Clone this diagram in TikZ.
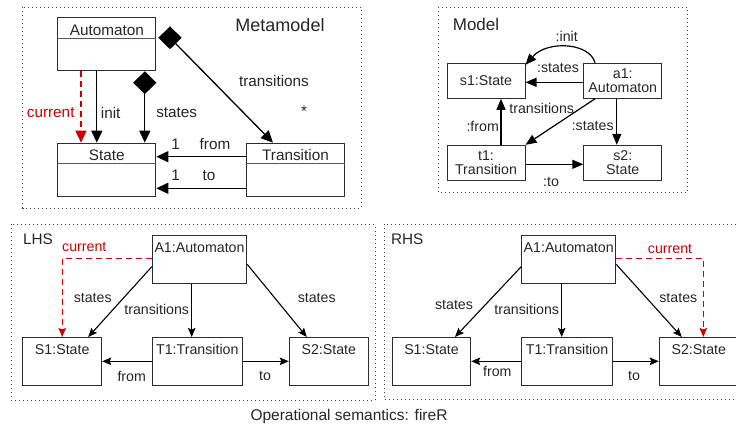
\documentclass[tikz,border=0pt]{standalone}
\usepackage{fontspec}
\setmainfont{Liberation Sans}
\usepackage{xcolor}
\usepackage{tikz}
\usetikzlibrary{arrows.meta,shapes.geometric}
\definecolor{curred}{RGB}{204,0,0}
\definecolor{boxline}{RGB}{45,45,45}
\definecolor{sepline}{RGB}{105,80,80}
\newcommand{\compartment}[1]{%
    \draw[sepline, line width=1pt] ([yshift=-21pt]#1.north west) -- ([yshift=-21pt]#1.north east);%
}

\begin{document}
\begin{tikzpicture}[x=1pt, y=-1pt, every node/.style={inner sep=0pt, text=black!85},
            frame/.style={draw=black!75, line width=1pt, dash pattern=on 1pt off 3pt},
            metafont/.style={font=\fontsize{15.3}{17}\selectfont},
            objfont/.style={font=\fontsize{14.2}{14.5}\selectfont},
            classbox/.style={draw=boxline, line width=1pt, metafont, minimum width=98pt,
                inner ysep=3pt, text height=14.7pt, text depth=32.3pt},
            modelbox/.style={draw=boxline, line width=1pt, objfont, align=center,
                minimum width=78pt, minimum height=35pt},
            objbox/.style={draw=boxline, line width=1pt, objfont, minimum width=#1,
                inner ysep=3pt, text height=13.6pt, text depth=28pt},
            blackdiamond/.style={diamond, fill=black, minimum width=23.5pt, minimum height=23pt},
            bigtip/.style={line width=1.3pt, -{Triangle[length=12pt, width=11pt]}},
            modeltip/.style={line width=1.2pt, -{Triangle[length=11pt, width=9pt]}},
            smalltip/.style={line width=1.1pt, -{Stealth[length=9pt, width=7.5pt, inset=1.5pt]}},
            curdash/.style={draw=curred, dash pattern=on 6pt off 4pt},
        ]
    \useasboundingbox (0,0) rectangle (736,426);

    % Metamodel
    \draw[frame] (22.7,7.3) rectangle (361,208);
    \node[font=\fontsize{18}{20}\selectfont] (metamodel) at (280,25) {Metamodel};
    \node[classbox] (automaton) at (106.8,44) {Automaton};
    \node[classbox] (state) at (106.8,169.7) {State};
    \node[classbox] (transition) at (295.5,169.7) {Transition};
    \compartment{automaton}
    \compartment{state}
    \compartment{transition}
    \node[blackdiamond] (sdiamond) at (144.8,82.7) {};
    \node[blackdiamond] (tdiamond) at (170,37.8) {};
    \draw[bigtip, curdash] ([xshift=-25.8pt]automaton.south) -- ([xshift=-25.8pt]state.north);
    \draw[bigtip] ([xshift=-10pt]automaton.south) -- ([xshift=-10pt]state.north);
    \draw[bigtip] (sdiamond.south) -- (sdiamond.south |- state.north);
    \draw[bigtip] (tdiamond) -- ([xshift=-22.5pt]transition.north);
    \draw[bigtip] ([yshift=13pt]transition.west) -- ([yshift=13pt]state.east);
    \draw[bigtip] ([yshift=-18.6pt]transition.west) -- ([yshift=-18.6pt]state.east);
    \node[metafont, text=curred] (mcurrent) at (50.7,113) {current};
    \node[metafont] (minit) at (110.7,113) {init};
    \node[metafont] (mstates) at (176.7,113) {states};
    \node[metafont] (mtransitions) at (274,80.7) {transitions};
    \node[metafont] (mstar) at (304,111) {*};
    \node[metafont] (mfromone) at (175.7,144) {1};
    \node[metafont] (mfrom) at (215,144) {from};
    \node[metafont] (mtoone) at (175.7,175.7) {1};
    \node[metafont] (mto) at (209,175.7) {to};

    % Model
    \draw[frame] (438.3,7.3) rectangle (687.3,192.7);
    \node[font=\fontsize{17}{19}\selectfont] (model) at (476,24) {Model};
    \node[modelbox] (s1) at (486,80.8) {s1:State};
    \node[modelbox] (a1) at (622.8,80.8) {a1:\\Automaton};
    \node[modelbox] (t1) at (486,162.8) {t1:\\Transition};
    \node[modelbox] (s2) at (622.8,162.8) {s2:\\State};
    \draw[modeltip] ([xshift=-27.8pt]a1.north) .. controls ([xshift=-32.8pt, yshift=20pt]a1.north)
        and ([xshift=22pt, yshift=23pt]s1.north east) .. ([yshift=-2pt]s1.north east);
    \draw[modeltip] ([yshift=-1.5pt]a1.west) -- ([yshift=-1.5pt]s1.east);
    \draw[modeltip] ([xshift=-27.8pt]a1.south) -- (t1.north east);
    \draw[modeltip] ([xshift=15pt]t1.north) -- ([xshift=15pt]s1.south);
    \draw[modeltip] ([xshift=-6pt]a1.south) -- ([xshift=-6pt]s2.north);
    \draw[modeltip] ([yshift=-1.5pt]t1.east) -- ([yshift=-1.5pt]s2.west);
    \node[objfont] (linit) at (566.7,36) {:init};
    \node[objfont] (lstatesa) at (558,67.7) {:states};
    \node[objfont] (ltransitions) at (541.7,108.3) {transitions};
    \node[objfont] (lfrom) at (482.7,126) {:from};
    \node[objfont] (lstatesb) at (592.7,126) {:states};
    \node[objfont] (lto) at (551,181.7) {:to};

    % LHS
    \draw[frame] (11,224.3) rectangle (375,400);
    \node[font=\fontsize{15.3}{17}\selectfont] (lhs) at (38,239) {LHS};
    \node[objbox=94.4pt] (lA1) at (199.5,259.5) {A1:Automaton};
    \node[objbox=79pt] (lS1) at (62.2,361.3) {S1:State};
    \node[objbox=90pt] (lT1) at (197.3,361.3) {T1:Transition};
    \node[objbox=79pt] (lS2) at (328.8,361.3) {S2:State};
    \draw[smalltip, curdash] ([yshift=1.2pt]lA1.west) -| (lS1.north);
    \draw[smalltip] ([yshift=-7.2pt]lA1.west) -- ([xshift=26pt]lS1.north);
    \draw[smalltip] ([xshift=-7.8pt]lA1.south) -- ([xshift=-5.6pt]lT1.north);
    \draw[smalltip] ([yshift=-4.8pt]lA1.east) -- ([xshift=-22pt]lS2.north);
    \draw[smalltip] (lT1.west) -- (lS1.east);
    \draw[smalltip] (lT1.east) -- (lS2.west);
    \node[objfont, text=curred] (lcurrent) at (84.3,246.7) {current};
    \node[objfont] (lstatesl) at (92.7,298.3) {states};
    \node[objfont] (ltrans) at (156.7,309.3) {transitions};
    \node[objfont] (lstatesr) at (316.7,298.3) {states};
    \node[objfont] (lfromlbl) at (131.7,376) {from};
    \node[objfont] (ltolbl) at (265,376) {to};

    % RHS
    \draw[frame] (384,224.3) rectangle (745,399.3);
    \node[font=\fontsize{15.3}{17}\selectfont] (rhs) at (407.3,239) {RHS};
    \node[objbox=94pt] (rA1) at (568.7,259.5) {A1:Automaton};
    \node[objbox=78.4pt] (rS1) at (431.5,361.3) {S1:State};
    \node[objbox=90.6pt] (rT1) at (567,361.3) {T1:Transition};
    \node[objbox=79pt] (rS2) at (698.8,361.3) {S2:State};
    \draw[smalltip, curdash] ([yshift=1.2pt]rA1.east) -| ([xshift=4.5pt]rS2.north);
    \draw[smalltip] ([yshift=-7.2pt]rA1.west) -- ([xshift=23.5pt]rS1.north);
    \draw[smalltip] ([xshift=-7pt]rA1.south) -- ([xshift=-5.3pt]rT1.north);
    \draw[smalltip] ([yshift=-4.8pt]rA1.east) -- ([xshift=-17pt]rS2.north);
    \draw[smalltip] (rT1.west) -- (rS1.east);
    \draw[smalltip] (rT1.east) -- (rS2.west);
    \node[objfont, text=curred] (rcurrent) at (670,249.3) {current};
    \node[objfont] (rstatesl) at (454,305) {states};
    \node[objfont] (rtrans) at (526.7,309.3) {transitions};
    \node[objfont] (rstatesr) at (678.3,298.3) {states};
    \node[objfont] (rfromlbl) at (497.3,371.7) {from};
    \node[objfont] (rtolbl) at (634,376) {to};

    \node[font=\fontsize{15.5}{17}\selectfont] (caption) at (349,416) {Operational semantics: fireR};
\end{tikzpicture}
\end{document}
